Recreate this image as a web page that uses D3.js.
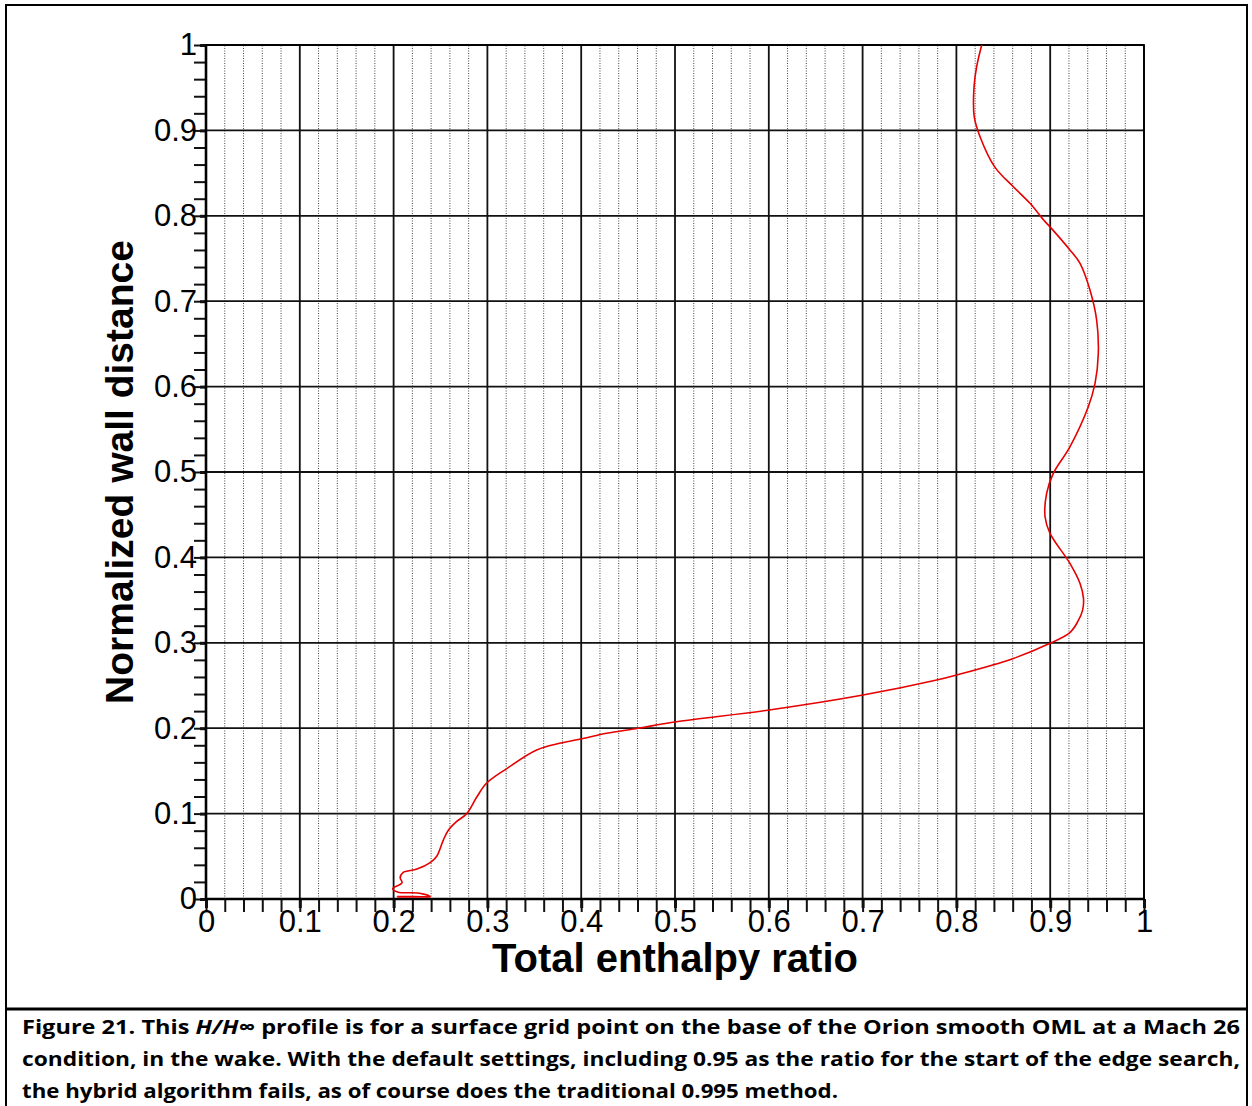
<!DOCTYPE html>
<html>
<head>
<meta charset="utf-8">
<script src="https://cdn.jsdelivr.net/npm/d3@7"></script>
<style>
  body { margin: 0; background: #fff; }
  svg { display: block; }
</style>
</head>
<body>
<svg id="chart" width="1252" height="1106"></svg>
<script>
// profile: total enthalpy ratio vs normalized wall distance
const enthalpy = [0.204,0.239,0.204,0.239,0.226,0.205,0.199,0.209,0.207,0.210,0.225,0.239,0.246,0.253,0.258,
  0.267,0.278,0.289,0.299,0.321,0.3525,0.377,0.402,0.427,0.461,0.5015,0.6005,0.699,0.779,0.8003,0.8607,
  0.8998,0.921,0.9295,0.9345,0.9355,0.9318,0.921,0.8998,0.8945,0.8962,0.9033,0.921,0.9406,
  0.9478,0.9513,0.9495,0.9424,0.9318,0.921,0.8998,0.893,0.8785,0.8607,0.841,0.8252,0.819,0.8188,0.8216,0.827]
const wallDist = [0.0025,0.0025,0.003,0.003,0.007,0.008,0.012,0.019,0.025,0.031,0.035,0.0425,0.050,0.069,0.080,
  0.0905,0.100,0.120,0.1355,0.153,0.1745,0.1823,0.188,0.194,0.200,0.2076,0.2213,0.2385,0.2564,0.2623,0.2817,
  0.2994,0.312,0.325,0.338,0.352,0.3695,0.393,0.4281,0.4476,0.475,0.4984,0.5295,0.5765,
  0.6038,0.639,0.678,0.713,0.7443,0.76,0.787,0.795,0.8146,0.834,0.857,0.8926,0.916,0.951,0.9746,1.0]

const majorTicks = [0,0.1,0.2,0.3,0.4,0.5,0.6,0.7,0.8,0.9,1]
const minorTicks = d3.range(0,51).map(i => i/50)
const tickLabels = ['0','0.1','0.2','0.3','0.4','0.5','0.6','0.7','0.8','0.9','1']
const xTitle = 'Total enthalpy ratio'
const yTitle = 'Normalized wall distance'
const caption = [
  ['Figure 21. This ', ['H/H', true], ['∞', true], ' profile is for a surface grid point on the base of the Orion smooth OML at a Mach 26'],
  ['condition, in the wake. With the default settings, including 0.95 as the ratio for the start of the edge search,'],
  ['the hybrid algorithm fails, as of course does the traditional 0.995 method.']
]

const svg = d3.select('#chart')
const x = d3.scaleLinear().domain([0,1]).range([206,1144])
const y = d3.scaleLinear().domain([0,1]).range([899,45])

// outer frame and caption separator
svg.append('rect').attr('x',6).attr('y',5).attr('width',1241).attr('height',1110)
  .attr('fill','none').attr('stroke','#000').attr('stroke-width',2)
svg.append('line').attr('x1',6).attr('x2',1247).attr('y1',1009).attr('y2',1009)
  .attr('stroke','#000').attr('stroke-width',3)

const grid = svg.append('g')
// dotted minor verticals
grid.selectAll('line.minor').data(minorTicks.filter((d,i) => i % 5 !== 0))
  .enter().append('line')
    .attr('class','minor')
    .attr('x1',d => x(d)).attr('x2',d => x(d))
    .attr('y1',y(0)).attr('y2',y(1))
    .attr('stroke','#444').attr('stroke-width',1).attr('stroke-dasharray','1,1.5')
// solid major grid
grid.selectAll('line.vmaj').data(majorTicks)
  .enter().append('line')
    .attr('x1',d => x(d)).attr('x2',d => x(d))
    .attr('y1',y(0)).attr('y2',y(1))
    .attr('stroke','#111').attr('stroke-width',1.8)
grid.selectAll('line.hmaj').data(majorTicks)
  .enter().append('line')
    .attr('x1',x(0)).attr('x2',x(1))
    .attr('y1',d => y(d)).attr('y2',d => y(d))
    .attr('stroke','#111').attr('stroke-width',1.8)

// axes: minor ticks, then major ticks with labels
const fmt = d => tickLabels[majorTicks.indexOf(d)]

const yMinor = svg.append('g').attr('transform',`translate(${x(0)},0)`)
  .call(d3.axisLeft(y).tickValues(minorTicks).tickSize(12).tickFormat(''))
const yMajor = svg.append('g').attr('transform',`translate(${x(0)},0)`)
  .call(d3.axisLeft(y).tickValues(majorTicks).tickSize(6).tickPadding(3).tickFormat(fmt))
const xMinor = svg.append('g').attr('transform',`translate(0,${y(0)})`)
  .call(d3.axisBottom(x).tickValues(minorTicks).tickSize(13).tickFormat(''))
const xMajor = svg.append('g').attr('transform',`translate(0,${y(0)})`)
  .call(d3.axisBottom(x).tickValues(majorTicks).tickSize(9).tickPadding(2).tickFormat(fmt))

for (const a of [yMinor, yMajor, xMinor, xMajor]) {
  a.select('.domain').remove()
  a.selectAll('.tick line').attr('stroke','#111').attr('stroke-width',2)
  a.selectAll('text').attr('fill','#000')
    .style('font-family','"Liberation Sans", Arial, sans-serif').style('font-size','31px')
}
yMajor.selectAll('.tick line').attr('stroke-width',3)
xMajor.selectAll('.tick line').attr('stroke-width',3)

// plot frame
svg.append('rect').attr('x',x(0)).attr('y',y(1)).attr('width',x(1)-x(0)).attr('height',y(0)-y(1))
  .attr('fill','none').attr('stroke','#000').attr('stroke-width',1.8)
svg.append('line').attr('x1',x(0)).attr('x2',x(0)).attr('y1',y(0)).attr('y2',y(1))
  .attr('stroke','#000').attr('stroke-width',2.6)
svg.append('line').attr('x1',x(0)).attr('x2',x(1)).attr('y1',y(0)).attr('y2',y(0))
  .attr('stroke','#000').attr('stroke-width',2.6)

// the profile
const pts = enthalpy.map((d,i) => [d, wallDist[i]])
const line = d3.line().x(d => x(d[0])).y(d => y(d[1])).curve(d3.curveCatmullRom.alpha(0.5))
svg.append('path')
  .attr('d',line(pts))
  .attr('fill','none').attr('stroke','#e60000').attr('stroke-width',1.6)
  .attr('stroke-linejoin','round')

// axis titles
svg.append('text').attr('x',675).attr('y',972).attr('text-anchor','middle')
  .style('font-family','"Liberation Sans", Arial, sans-serif').style('font-weight','bold').style('font-size','40px')
  .text(xTitle)
svg.append('text').attr('transform','translate(133,472) rotate(-90)').attr('text-anchor','middle')
  .style('font-family','"Liberation Sans", Arial, sans-serif').style('font-weight','bold').style('font-size','39px')
  .text(yTitle)

// caption
const capLens = [1218, 1218, 816]
const capY = [1034, 1066, 1098]
caption.forEach((parts,i) => {
  const t = svg.append('text').attr('x',22).attr('y',capY[i])
    .attr('textLength',capLens[i]).attr('lengthAdjust','spacingAndGlyphs')
    .style('font-family','"Open Sans", "Noto Sans", sans-serif').style('font-weight','bold').style('font-size','20px')
  parts.forEach(p => {
    if (Array.isArray(p)) t.append('tspan').style('font-style','italic').text(p[0])
    else t.append('tspan').text(p)
  })
})
</script>
</body>
</html>
